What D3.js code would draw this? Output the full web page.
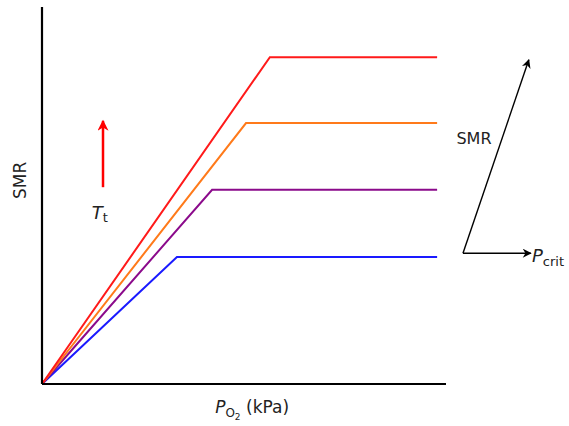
<!DOCTYPE html>
<html>
<head>
<meta charset="utf-8">
<script src="https://cdn.jsdelivr.net/npm/d3@7"></script>
<style>
  body { margin: 0; background: #fff; }
  text { font-family: "DejaVu Sans", sans-serif; fill: #222; }
</style>
</head>
<body>
<div id="chart"></div>
<script>
// Schematic: SMR vs PO2 at rising temperature (values in arbitrary units)
const seriesNames = ["low", "mid", "high", "highest"];
const seriesColors = ["#1a1aff", "#8b0a8b", "#ff7a1a", "#ff1a1a"];
const pcritValues = [3.34, 4.21, 5.05, 5.64];   // x of the break point
const smrValues = [3.37, 5.15, 6.92, 8.67];     // plateau level
const xEnd = 9.78;

const width = 569, height = 426;
const margin = { left: 42, right: 123, top: 7, bottom: 42 };

const svg = d3.select("#chart").append("svg")
    .attr("width", width)
    .attr("height", height);

const x = d3.scaleLinear().domain([0, 10]).range([margin.left, width - margin.right]);
const y = d3.scaleLinear().domain([0, 10]).range([height - margin.bottom, margin.top]);

const defs = svg.append("defs");
function marker(id, color, w, h) {
    defs.append("marker")
        .attr("id", id)
        .attr("viewBox", "0 0 10 10")
        .attr("refX", 9).attr("refY", 5)
        .attr("markerWidth", w).attr("markerHeight", h)
        .attr("markerUnits", "userSpaceOnUse")
        .attr("orient", "auto")
        .append("path")
        .attr("d", "M0,0 L10,5 L0,10 L3,5 Z")
        .attr("fill", color);
}
marker("arrBlack", "#000", 11, 9);
marker("arrRed", "#ff0000", 12, 11);

// lines
const line = d3.line().x(d => x(d[0])).y(d => y(d[1]));
const series = seriesNames.map((name, i) => ({
    name: name,
    color: seriesColors[i],
    pts: [[0, 0], [pcritValues[i], smrValues[i]], [xEnd, smrValues[i]]]
}));

svg.append("g").selectAll("path")
    .data(series)
    .enter().append("path")
    .attr("d", d => line(d.pts))
    .attr("fill", "none")
    .attr("stroke", d => d.color)
    .attr("stroke-width", 2);

// axes (plain lines, no ticks)
svg.append("line")
    .attr("x1", x(0)).attr("y1", y(0))
    .attr("x2", x(0)).attr("y2", y(10))
    .attr("stroke", "#000").attr("stroke-width", 2.2);
svg.append("line")
    .attr("x1", x(0)).attr("y1", y(0))
    .attr("x2", x(10)).attr("y2", y(0))
    .attr("stroke", "#000").attr("stroke-width", 2.2);

// axis labels
svg.append("text")
    .attr("transform", `translate(26,${y(5.4)}) rotate(-90)`)
    .attr("text-anchor", "middle")
    .attr("font-size", 17)
    .text("SMR");

const xl = svg.append("text")
    .attr("x", x(5.2)).attr("y", 413)
    .attr("text-anchor", "middle")
    .attr("font-size", 17);
xl.append("tspan").attr("font-style", "italic").text("P");
xl.append("tspan").attr("font-size", 12).attr("dy", 4).text("O");
xl.append("tspan").attr("font-size", 9).attr("dy", 3).text("2");
xl.append("tspan").attr("dy", -7).text(" (kPa)");

// temperature arrow
svg.append("line")
    .attr("x1", x(1.51)).attr("y1", y(5.22))
    .attr("x2", x(1.51)).attr("y2", y(6.98))
    .attr("stroke", "#ff0000").attr("stroke-width", 2.5)
    .attr("marker-end", "url(#arrRed)");
const tt = svg.append("text")
    .attr("x", x(1.23)).attr("y", 219)
    .attr("font-size", 18);
tt.append("tspan").attr("font-style", "italic").text("T");
tt.append("tspan").attr("font-size", 13).attr("dy", 3).text("t");

// direction key on the right
svg.append("line")
    .attr("x1", x(10.42)).attr("y1", y(3.47))
    .attr("x2", x(12.05)).attr("y2", y(8.6))
    .attr("stroke", "#000").attr("stroke-width", 1.4)
    .attr("marker-end", "url(#arrBlack)");
svg.append("line")
    .attr("x1", x(10.42)).attr("y1", y(3.47))
    .attr("x2", x(12.1)).attr("y2", y(3.47))
    .attr("stroke", "#000").attr("stroke-width", 1.4)
    .attr("marker-end", "url(#arrBlack)");

svg.append("text")
    .attr("x", 474).attr("y", 144)
    .attr("text-anchor", "middle")
    .attr("font-size", 16)
    .text("SMR");

const pc = svg.append("text")
    .attr("x", 532).attr("y", 262)
    .attr("font-size", 18);
pc.append("tspan").attr("font-style", "italic").text("P");
pc.append("tspan").attr("font-size", 13).attr("dy", 4).text("crit");
</script>
</body>
</html>
